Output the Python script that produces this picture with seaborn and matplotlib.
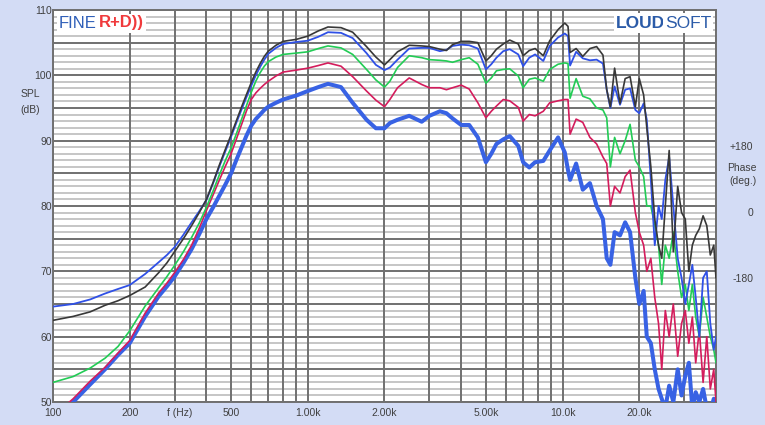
import numpy as np
import pandas as pd
import seaborn as sns
import matplotlib.pyplot as plt
import matplotlib.transforms as mtransforms

# frequency points (Hz) shared by all five SPL curves
freq = [100, 120, 140, 160, 180, 200, 230, 260, 280, 300,
        325, 350, 375, 400, 425, 450, 475, 500, 525, 550,
        575, 600, 625, 650, 675, 700, 750, 800, 900, 1000,
        1100, 1200, 1350, 1500, 1700, 1850, 2000,
        2100, 2250, 2500, 2800, 3000, 3300, 3500, 3700, 4000, 4300,
        4650, 5000, 5250, 5500, 5850, 6200, 6700, 7000, 7400, 7800,
        8400, 8900, 9600, 10200, 10500, 10700, 11300, 12000, 12800, 13600,
        14400, 14900, 15400, 16000, 16800, 17600, 18400, 19300, 20000, 20800,
        21400, 22200, 23000, 23800, 24500, 25300, 26200, 27200, 28300, 29300,
        30300, 31300, 32300, 33300, 34400, 35600, 36800, 38000, 39200, 40000]

spl_black = [62.5, 63.1, 63.8, 64.8, 65.5, 66.3, 67.6, 69.8, 71.3, 73.0,
             75.0, 77.0, 79.0, 81.0, 83.6, 86.3, 88.7, 90.9, 93.1, 95.2,
             97.1, 98.9, 100.5, 101.8, 102.9, 103.7, 104.6, 105.2, 105.5, 106.0,
             106.8, 107.4, 107.3, 106.6, 104.4, 102.8, 101.6,
             102.4, 103.6, 104.6, 104.5, 104.4, 104.0, 103.8, 104.7, 105.2, 105.2,
             105.0, 102.2, 103.0, 104.0, 104.8, 105.4, 104.8, 103.0, 103.8, 104.1,
             103.0, 105.3, 107.0, 108.0, 107.5, 103.5, 104.1, 102.9, 104.1, 104.4,
             103.1, 97.8, 95.2, 101.1, 95.7, 99.5, 99.8, 95.2, 99.5, 97.0,
             92.0, 86.0, 78.0, 74.0, 72.0, 80.0, 88.5, 73.0, 83.0, 79.0,
             78.0, 70.0, 74.0, 75.5, 76.5, 78.5, 77.0, 72.5, 74.0, 69.0]

spl_blue = [64.6, 65.0, 65.7, 66.6, 67.3, 67.9, 69.6, 71.4, 72.5, 73.7,
            75.6, 77.5, 79.2, 80.9, 83.5, 86.1, 88.4, 90.6, 92.8, 94.8,
            96.7, 98.4, 100.0, 101.3, 102.4, 103.3, 104.2, 104.8, 105.1, 105.3,
            105.9, 106.6, 106.5, 105.7, 103.4, 101.6, 100.8,
            101.2, 102.4, 104.1, 104.2, 104.2, 103.7, 103.9, 104.5, 104.7, 104.6,
            104.1, 100.9, 101.7, 102.7, 103.7, 104.0, 103.2, 101.4, 102.7, 103.2,
            102.2, 104.5, 105.8, 106.4, 106.0, 101.5, 103.6, 102.6, 102.3, 102.4,
            101.8, 97.8, 95.0, 98.3, 95.5, 97.8, 98.0, 94.7, 94.2, 95.7,
            93.2, 84.0, 74.0, 80.0, 78.0, 84.0, 87.5, 80.0, 72.0, 69.0,
            65.0, 68.0, 71.0, 66.0, 60.0, 69.0, 70.0, 62.0, 58.0, 60.0]

spl_green = [53.0, 53.9, 55.2, 56.7, 58.5, 60.9, 64.7, 67.5, 69.2, 70.9,
             73.0, 75.2, 77.4, 79.8, 82.3, 84.8, 87.0, 88.9, 91.1, 93.3,
             95.4, 97.4, 99.1, 100.4, 101.4, 102.1, 102.8, 103.2, 103.4, 103.6,
             104.1, 104.5, 104.2, 103.2, 100.9, 99.3, 98.2,
             99.1, 101.2, 103.0, 102.7, 102.4, 102.3, 102.2, 102.0, 102.4, 102.7,
             101.7, 98.8, 99.6, 100.7, 100.9, 101.0, 99.9, 98.1, 99.4, 99.6,
             99.1, 100.9, 101.7, 101.9, 101.8, 96.5, 99.5, 96.8, 96.4, 95.0,
             94.7, 93.5, 86.0, 90.5, 88.0, 90.0, 92.5, 87.0, 86.0, 84.5,
             80.0, 80.0, 77.0, 74.0, 68.0, 74.0, 72.0, 76.0, 70.0, 66.0,
             68.0, 64.0, 68.0, 63.0, 60.0, 66.0, 63.0, 60.0, 58.0, 56.0]

spl_crimson = [47.8, 50.5, 53.2, 55.3, 57.5, 59.4, 63.6, 66.7, 68.2, 69.8,
               71.8, 74.0, 76.6, 79.3, 81.7, 84.0, 86.1, 88.0, 90.3, 92.5,
               94.6, 96.3, 97.3, 98.0, 98.6, 99.1, 99.9, 100.5, 100.8, 101.1,
               101.5, 101.9, 101.4, 99.8, 97.6, 96.2, 95.2,
               96.3, 98.1, 99.6, 98.6, 98.1, 98.1, 97.8, 98.1, 98.5, 97.9,
               95.8, 93.5, 94.5, 95.3, 96.3, 96.1, 95.1, 93.0, 94.0, 93.8,
               94.5, 95.8, 96.1, 96.3, 96.3, 91.0, 93.3, 92.8, 90.5, 89.5,
               87.5, 86.5, 80.0, 83.0, 82.0, 84.5, 85.5, 79.0, 76.0, 74.0,
               70.0, 72.0, 66.0, 62.0, 55.0, 64.0, 60.0, 65.0, 57.0, 62.0,
               64.0, 59.0, 63.0, 56.0, 61.0, 53.0, 60.0, 52.0, 55.0, 50.0]

spl_blue_thick = [47.5, 50.0, 52.7, 55.0, 57.2, 59.0, 63.1, 66.2, 67.7, 69.2,
                  71.3, 73.4, 75.7, 78.0, 79.8, 81.6, 83.3, 85.0, 87.1, 89.0,
                  90.8, 92.3, 93.3, 94.0, 94.7, 95.2, 95.8, 96.3, 96.9, 97.6,
                  98.2, 98.7, 98.2, 95.8, 93.2, 91.9, 91.9,
                  92.7, 93.2, 93.8, 92.9, 93.8, 94.5, 94.2, 93.4, 92.4, 92.4,
                  90.5, 86.7, 88.0, 89.5, 90.2, 90.7, 89.2, 86.7, 85.9, 86.7,
                  86.9, 88.5, 90.5, 88.2, 85.5, 84.0, 86.5, 82.5, 83.5, 80.0,
                  78.0, 72.0, 71.0, 76.0, 75.5, 77.5, 76.0, 69.0, 65.0, 67.0,
                  60.0, 59.0, 55.0, 52.0, 50.5, 49.0, 52.5, 50.0, 55.0, 51.0,
                  54.0, 56.0, 49.0, 51.5, 50.0, 52.0, 49.0, 48.5, 50.5, 49.0]

x_ticks = [100, 200, 300, 400, 500, 600, 700, 800, 900,
           1000, 2000, 3000, 4000, 5000, 6000, 7000, 8000, 9000,
           10000, 20000, 30000, 40000]
x_labels = {100: '100', 200: '200', 500: '500', 1000: '1.00k', 2000: '2.00k',
            5000: '5.00k', 10000: '10.0k', 20000: '20.0k'}
y_ticks = list(range(50, 111, 5))
phase_ticks = [-180, 0, 180]
phase_labels = ['-180', '0', '+180']

df = pd.DataFrame({'freq': freq, 'black': spl_black, 'blue': spl_blue,
                   'green': spl_green, 'crimson': spl_crimson,
                   'blue_thick': spl_blue_thick})

sns.set_style('white')
plt.rcParams['font.family'] = ['Liberation Sans', 'DejaVu Sans']

bg = '#d3dcf5'
txt = '#404040'
fig = plt.figure(figsize=(7.65, 4.25), dpi=100, facecolor=bg)
ax = fig.add_axes([53 / 765, 23 / 425, 663 / 765, 392 / 425])
ax.set_facecolor('white')
ax.set_xscale('log')

# draw order: thick blue underneath, black on top
curves = [('blue_thick', '#3862e4', 2.9),
          ('crimson', '#d41c5c', 1.2),
          ('green', '#22cc55', 1.2),
          ('blue', '#2f50e6', 1.3),
          ('black', '#383838', 1.2)]
for col, color, lw in curves:
    sns.lineplot(data=df, x='freq', y=col, ax=ax, color=color, lw=lw,
                 estimator=None, sort=False, solid_joinstyle='round', zorder=3)

ax.set_xlim(100, 40000)
ax.set_ylim(50, 110)
ax.set_xlabel('')
ax.set_ylabel('')

ax.set_xticks(x_ticks)
ax.set_xticklabels([x_labels.get(t, '') for t in x_ticks])
ax.xaxis.set_minor_locator(plt.NullLocator())
ax.set_yticks(y_ticks)
ax.set_yticklabels([str(t) if t % 10 == 0 else '' for t in y_ticks])
ax.tick_params(axis='both', which='both', length=0, labelsize=7.5, labelcolor=txt)
ax.tick_params(axis='x', pad=4.5)
ax.tick_params(axis='y', pad=0.8)

# light 1 dB lines under the dark grid
for v in range(51, 110):
    if v % 5:
        ax.axhline(v, color='#c6c6c6', lw=1.4, zorder=0.2)
ax.grid(which='major', color='#707070', lw=1.4)
ax.set_axisbelow(True)
for s in ax.spines.values():
    s.set_color('#707070')
    s.set_linewidth(1.4)

# axis captions
trans = mtransforms.blended_transform_factory(ax.transData, ax.transAxes)
ax.text(313, -0.028, 'f (Hz)', transform=trans, ha='center', va='center',
        fontsize=7.5, color=txt)
fig.text(30 / 765, 1 - 94 / 425, 'SPL', ha='center', va='center', fontsize=7.5, color=txt)
fig.text(30 / 765, 1 - 110 / 425, '(dB)', ha='center', va='center', fontsize=7.5, color=txt)

# phase scale on the right
k = 180 / 10.15
ax2 = ax.twinx()
ax2.set_ylim((50 - 79.1) * k, (110 - 79.1) * k)
ax2.set_yticks(phase_ticks)
ax2.set_yticklabels(phase_labels)
ax2.tick_params(axis='y', length=0, pad=27, labelsize=7.5, labelcolor=txt)
for lbl in ax2.get_yticklabels():
    lbl.set_horizontalalignment('right')
ax2.grid(False)
for s in ax2.spines.values():
    s.set_visible(False)
fig.text(742 / 765, 1 - 168 / 425, 'Phase', ha='center', va='center', fontsize=7.5, color=txt)
fig.text(743 / 765, 1 - 181 / 425, '(deg.)', ha='center', va='center', fontsize=7.5, color=txt)

# logos
box = dict(facecolor='white', edgecolor='none', pad=1.5)
fig.text(59 / 765, 1 - 23 / 425, 'FINE', ha='left', va='center', fontsize=12,
         color='#2f5fb8', bbox=box, zorder=5)
fig.text(99 / 765, 1 - 23 / 425, 'R+D))', ha='left', va='center', fontsize=12,
         color='#f03a3c', fontweight='bold', bbox=box, zorder=5)
fig.text(665 / 765, 1 - 23 / 425, 'LOUD', ha='right', va='center', fontsize=12.5,
         color='#2b5ba8', fontweight='bold', bbox=box, zorder=5)
fig.text(665 / 765, 1 - 23 / 425, 'SOFT', ha='left', va='center', fontsize=12.5,
         color='#2b5ba8', bbox=box, zorder=5)

fig.savefig('out.png', dpi=100, facecolor=bg)
